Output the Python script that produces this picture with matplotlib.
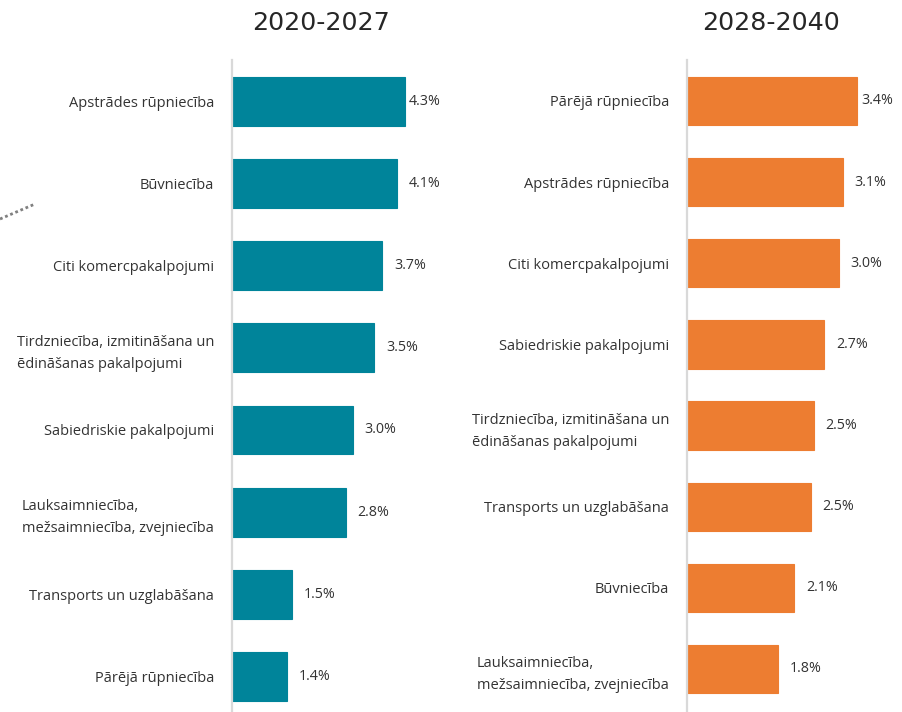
import matplotlib
matplotlib.use("Agg")
import matplotlib.pyplot as plt
from matplotlib.lines import Line2D

plt.rcParams['font.family'] = ['Open Sans', 'DejaVu Sans']

# ---- data ----
title_left = "2020-2027"
cats_left = [
    "Apstrādes rūpniecība",
    "Būvniecība",
    "Citi komercpakalpojumi",
    "Tirdzniecība, izmitināšana un\nēdināšanas pakalpojumi",
    "Sabiedriskie pakalpojumi",
    "Lauksaimniecība,\nmežsaimniecība, zvejniecība",
    "Transports un uzglabāšana",
    "Pārējā rūpniecība",
]
vals_left = [4.3, 4.1, 3.74, 3.54, 3.0, 2.83, 1.49, 1.37]

title_right = "2028-2040"
cats_right = [
    "Pārējā rūpniecība",
    "Apstrādes rūpniecība",
    "Citi komercpakalpojumi",
    "Sabiedriskie pakalpojumi",
    "Tirdzniecība, izmitināšana un\nēdināšanas pakalpojumi",
    "Transports un uzglabāšana",
    "Būvniecība",
    "Lauksaimniecība,\nmežsaimniecība, zvejniecība",
]
vals_right = [3.4, 3.12, 3.04, 2.74, 2.53, 2.47, 2.14, 1.82]

W, H = 902, 712
fig = plt.figure(figsize=(W / 100, H / 100), dpi=100)

TEAL = "#00849A"
ORANGE = "#ED7D31"
TXT = "#333333"


def fx(px):
    return px / W


def fy(py):
    return 1 - py / H


def panel(x0, x1, xmax, ylim, cats, vals, color, title, title_x):
    ax = fig.add_axes([fx(x0), fy(712), fx(x1) - fx(x0), fy(60) - fy(712)])
    ypos = list(range(len(cats)))
    ax.barh(ypos, vals, height=0.595, color=color, edgecolor=color,
            linewidth=0.8)
    ax.set_xlim(0, xmax)
    ax.set_ylim(*ylim)
    ax.set_yticks(ypos)
    ax.set_yticklabels(cats, fontsize=10.5, color=TXT, linespacing=1.65)
    for t in ax.get_yticklabels():
        t.set_multialignment('left')
    ax.tick_params(axis='y', length=0, pad=13)
    ax.set_xticks([])
    for s in ['top', 'right', 'bottom']:
        ax.spines[s].set_visible(False)
    ax.spines['left'].set_color('#d9d9d9')
    ax.spines['left'].set_linewidth(1.6)
    ax.patch.set_alpha(0)
    for i, v in enumerate(vals):
        off = 3 if i == 0 else 8.5
        ax.annotate(f"{v:.1f}%", (v, i), xytext=(off, 0),
                    textcoords='offset points', va='center', ha='left',
                    fontsize=10.3, color=TXT)
    fig.text(fx(title_x), fy(23), title, ha='center', va='center',
             fontsize=18.3, color='#262626', family='DejaVu Sans')
    return ax


panel(232, 450, 218 / 40.2, (7.43, -0.5), cats_left, vals_left, TEAL,
      title_left, 321)
panel(687, 902, 215 / 50.0, (7.53, -0.505), cats_right, vals_right, ORANGE,
      title_right, 771)

# decorative dotted fragment at the left edge
fig.add_artist(Line2D([fx(0), fx(35)], [fy(219), fy(204)], color='#808080',
                      linestyle=(0, (1, 1)), linewidth=2))

fig.savefig("out.png", dpi=100)
